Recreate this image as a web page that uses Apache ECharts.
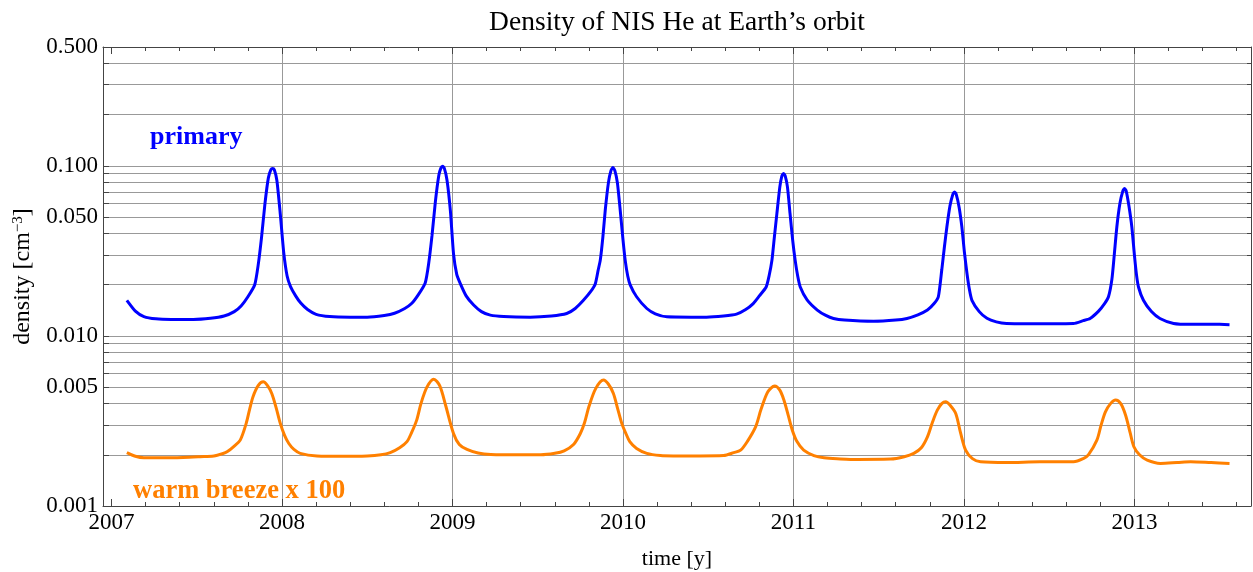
<!DOCTYPE html>
<html>
<head>
<meta charset="utf-8">
<script src="https://cdn.jsdelivr.net/npm/echarts@6/dist/echarts.min.js"></script>
<style>html,body{margin:0;padding:0;background:#fff}#c{width:1253px;height:572px}</style>
</head>
<body>
<div id="c"></div>
<script>
// ---- data (time in years, density in cm^-3) ----
const primaryT = [2007.09,2007.14,2007.19,2007.26,2007.35,2007.48,2007.58,2007.66,2007.72,2007.76,2007.80,2007.84,2007.86,2007.88,2007.90,2007.92,2007.935,2007.945,2007.955,2007.97,2007.99,2008.01,2008.03,2008.05,2008.08,2008.11,2008.15,2008.20,2008.28,2008.40,2008.50,2008.60,2008.66,2008.72,2008.76,2008.80,2008.84,2008.86,2008.88,2008.90,2008.92,2008.932,2008.942,2008.952,2008.968,2008.988,2009.006,2009.025,2009.046,2009.08,2009.124,2009.17,2009.222,2009.30,2009.456,2009.58,2009.67,2009.72,2009.768,2009.81,2009.838,2009.855,2009.867,2009.882,2009.896,2009.915,2009.93,2009.941,2009.952,2009.967,2009.984,2010.0,2010.013,2010.028,2010.043,2010.08,2010.14,2010.19,2010.258,2010.40,2010.49,2010.59,2010.666,2010.72,2010.764,2010.80,2010.84,2010.857,2010.874,2010.888,2010.903,2010.92,2010.932,2010.942,2010.952,2010.965,2010.98,2010.995,2011.01,2011.025,2011.04,2011.08,2011.14,2011.19,2011.235,2011.30,2011.47,2011.60,2011.666,2011.73,2011.786,2011.825,2011.85,2011.87,2011.885,2011.90,2011.918,2011.935,2011.945,2011.955,2011.972,2011.988,2012.003,2012.018,2012.032,2012.047,2012.09,2012.135,2012.19,2012.25,2012.45,2012.643,2012.70,2012.74,2012.79,2012.825,2012.848,2012.868,2012.882,2012.897,2012.915,2012.932,2012.942,2012.952,2012.968,2012.985,2013.0,2013.012,2013.024,2013.053,2013.10,2013.15,2013.23,2013.33,2013.425,2013.50,2013.558];
const primaryV = [0.0162,0.0140,0.0130,0.0126,0.0125,0.0125,0.0127,0.0131,0.0139,0.0150,0.0170,0.0200,0.0260,0.0380,0.0600,0.0850,0.0950,0.0966,0.0950,0.0820,0.0520,0.0310,0.0225,0.0195,0.0172,0.0156,0.0143,0.0134,0.0130,0.0129,0.0129,0.0132,0.0136,0.0145,0.0155,0.0175,0.0205,0.0265,0.0390,0.0620,0.0880,0.0970,0.0995,0.0970,0.0823,0.0540,0.0305,0.0230,0.0203,0.0172,0.0152,0.0139,0.01325,0.0130,0.0129,0.0131,0.01355,0.0145,0.0162,0.0182,0.0203,0.0245,0.0279,0.0380,0.0548,0.0800,0.0940,0.0977,0.0940,0.0800,0.0548,0.0370,0.0279,0.0225,0.0199,0.0170,0.0145,0.0135,0.01295,0.0129,0.0129,0.0131,0.01343,0.0143,0.0155,0.0172,0.0194,0.0225,0.0279,0.0380,0.0525,0.0750,0.0870,0.0901,0.0870,0.0750,0.0525,0.0370,0.0279,0.0225,0.0194,0.0163,0.0142,0.0132,0.01267,0.0124,0.0122,0.0124,0.01267,0.0133,0.0142,0.0155,0.0170,0.0244,0.0330,0.0437,0.0580,0.0680,0.0703,0.0680,0.0570,0.0437,0.0310,0.0233,0.0188,0.0162,0.0139,0.0127,0.0121,0.01184,0.0118,0.01184,0.0123,0.01267,0.0140,0.0155,0.0170,0.0215,0.0300,0.0437,0.0600,0.0710,0.0736,0.0710,0.0580,0.0437,0.0300,0.0230,0.0194,0.0162,0.0139,0.01267,0.01184,0.0117,0.01172,0.0117,0.01165];

const breezeT = [2007.09,2007.14,2007.19,2007.30,2007.42,2007.52,2007.60,2007.65,2007.68,2007.72,2007.755,2007.79,2007.81,2007.83,2007.86,2007.89,2007.915,2007.94,2007.965,2007.99,2008.015,2008.04,2008.07,2008.107,2008.205,2008.35,2008.50,2008.58,2008.635,2008.69,2008.733,2008.76,2008.79,2008.815,2008.85,2008.89,2008.925,2008.96,2009.006,2009.04,2009.085,2009.15,2009.225,2009.40,2009.518,2009.60,2009.655,2009.71,2009.75,2009.775,2009.80,2009.84,2009.886,2009.915,2009.944,2009.97,2009.993,2010.015,2010.04,2010.08,2010.14,2010.22,2010.295,2010.45,2010.59,2010.65,2010.69,2010.73,2010.778,2010.81,2010.85,2010.89,2010.92,2010.944,2010.97,2010.993,2011.02,2011.06,2011.12,2011.18,2011.275,2011.335,2011.57,2011.65,2011.706,2011.75,2011.786,2011.815,2011.844,2011.87,2011.893,2011.92,2011.952,2011.98,2012.01,2012.05,2012.098,2012.25,2012.446,2012.643,2012.70,2012.73,2012.78,2012.805,2012.83,2012.86,2012.89,2012.92,2012.948,2012.975,2012.997,2013.03,2013.075,2013.153,2013.25,2013.33,2013.45,2013.558];
const breezeV = [0.00206,0.00196,0.00192,0.00192,0.00193,0.00195,0.00197,0.00203,0.00209,0.00225,0.00244,0.00306,0.00370,0.00439,0.00510,0.00537,0.00510,0.00459,0.00380,0.00306,0.00260,0.00233,0.00215,0.00204,0.00197,0.00196,0.00197,0.00200,0.00206,0.00220,0.00239,0.00270,0.00320,0.00400,0.00500,0.00557,0.00510,0.00390,0.00267,0.00230,0.00215,0.00205,0.00201,0.00200,0.00200,0.00204,0.00211,0.00230,0.00267,0.00310,0.00383,0.00490,0.00550,0.00520,0.00459,0.00370,0.00306,0.00270,0.00239,0.00218,0.00204,0.00198,0.00197,0.00197,0.00198,0.00206,0.00213,0.00240,0.00292,0.00370,0.00470,0.00507,0.00480,0.00420,0.00340,0.00280,0.00240,0.00213,0.00198,0.00192,0.00189,0.00188,0.00189,0.00195,0.00204,0.00220,0.00255,0.00310,0.00366,0.00400,0.00410,0.00390,0.00350,0.00270,0.00213,0.00190,0.00182,0.00180,0.00182,0.00182,0.00190,0.00200,0.00244,0.00300,0.00358,0.00400,0.00420,0.00400,0.00343,0.00270,0.00223,0.00200,0.00186,0.00178,0.00180,0.00182,0.00180,0.00178];

const xMajorTicks = [2007,2008,2009,2010,2011,2012,2013];
const xGridYears = [2008,2009,2010,2011,2012,2013];
const xMinorTicks = [2007.2,2007.4,2007.6,2007.8,2008.2,2008.4,2008.6,2008.8,2009.2,2009.4,2009.6,2009.8,2010.2,2010.4,2010.6,2010.8,2011.2,2011.4,2011.6,2011.8,2012.2,2012.4,2012.6,2012.8,2013.2,2013.4,2013.6];
const yGridValues = [0.002,0.003,0.004,0.005,0.006,0.007,0.008,0.009,0.01,0.02,0.03,0.04,0.05,0.06,0.07,0.08,0.09,0.1,0.2,0.3,0.4];
const yLabelValues = [0.001,0.005,0.01,0.05,0.1,0.5];
const yTickLabels = ['0.001','0.005','0.010','0.050','0.100','0.500'];

const X_MIN = 2006.95, X_MAX = 2013.684, Y_MIN = 0.001, Y_MAX = 0.5;
const SERIF = '"Liberation Serif", "DejaVu Serif", serif';
const FRAME = '#444';

function zip(a, b) { return a.map((v, i) => [v, b[i]]); }

const baseX = {
  type: 'value', min: X_MIN, max: X_MAX, gridIndex: 0,
  axisLine: { show: false, onZero: false },
  axisLabel: { show: false },
  axisTick: { show: false },
  splitLine: { show: false }
};

const chart = echarts.init(document.getElementById('c'), null, { renderer: 'canvas' });
chart.setOption({
  animation: false,
  backgroundColor: '#fff',
  title: {
    text: 'Density of NIS He at Earth\u2019s orbit',
    left: 672, top: 4, textAlign: 'center',
    textStyle: { fontFamily: SERIF, fontSize: 27.5, fontWeight: 'normal', color: '#000' }
  },
  grid: { left: 103, right: 2, top: 47, bottom: 66, outerBoundsMode: 'none', containLabel: false },
  xAxis: [
    Object.assign({}, baseX, {
      position: 'bottom',
      name: 'time [y]', nameLocation: 'middle', nameGap: 42,
      nameTextStyle: { fontFamily: SERIF, fontSize: 22, color: '#000' },
      axisLine: { show: true, onZero: false, lineStyle: { color: FRAME, width: 1 } },
      axisTick: { show: true, inside: true, length: 7, customValues: xMajorTicks, lineStyle: { color: FRAME } },
      axisLabel: { show: true, customValues: xMajorTicks, margin: 5, fontFamily: SERIF, fontSize: 23, color: '#000',
        formatter: v => String(Math.round(v)) }
    }),
    Object.assign({}, baseX, {
      position: 'bottom',
      axisTick: { show: true, inside: true, length: 4, customValues: xMinorTicks, lineStyle: { color: FRAME } }
    }),
    Object.assign({}, baseX, {
      position: 'top',
      axisLine: { show: true, onZero: false, lineStyle: { color: FRAME, width: 1 } },
      axisTick: { show: true, inside: true, length: 7, customValues: xMajorTicks, lineStyle: { color: FRAME } }
    }),
    Object.assign({}, baseX, {
      position: 'top',
      axisTick: { show: true, inside: true, length: 4, customValues: xMinorTicks, lineStyle: { color: FRAME } }
    }),
    Object.assign({}, baseX, {
      position: 'bottom',
      axisTick: { show: false, customValues: xGridYears },
      splitLine: { show: true, lineStyle: { color: '#999', width: 1 } }
    })
  ],
  yAxis: [
    {
      type: 'log', logBase: 10, min: Y_MIN, max: Y_MAX, position: 'left',
      name: 'density [cm{sup|\u22123}]', nameLocation: 'middle', nameGap: 68, nameRotate: 90,
      nameTextStyle: { fontFamily: SERIF, fontSize: 24, color: '#000',
        rich: { sup: { fontFamily: SERIF, fontSize: 15, verticalAlign: 'top', color: '#000' } } },
      axisLine: { show: true, onZero: false, lineStyle: { color: FRAME, width: 1 } },
      axisTick: { show: true, inside: true, length: 6, customValues: yGridValues.concat(yLabelValues), lineStyle: { color: FRAME } },
      axisLabel: { show: true, customValues: yLabelValues, margin: 5, fontFamily: SERIF, fontSize: 23, color: '#000',
        formatter: v => { let best = 0; yLabelValues.forEach((lv, i) => { if (Math.abs(Math.log(lv / v)) < Math.abs(Math.log(yLabelValues[best] / v))) best = i; }); return yTickLabels[best]; } },
      splitLine: { show: false }
    },
    {
      type: 'log', logBase: 10, min: Y_MIN, max: Y_MAX, position: 'right',
      axisLine: { show: true, onZero: false, lineStyle: { color: FRAME, width: 1 } },
      axisTick: { show: true, inside: true, length: 4, customValues: yGridValues.concat(yLabelValues), lineStyle: { color: FRAME } },
      axisLabel: { show: false },
      splitLine: { show: false }
    },
    {
      type: 'log', logBase: 10, min: Y_MIN, max: Y_MAX, position: 'left',
      axisLine: { show: false }, axisLabel: { show: false },
      axisTick: { show: false, customValues: yGridValues },
      splitLine: { show: true, lineStyle: { color: '#999', width: 1 } }
    }
  ],
  graphic: [
    { type: 'text', left: 150, top: 124, z: 100,
      style: { text: 'primary', fill: '#0000ff', font: 'bold 26px ' + SERIF } },
    { type: 'text', left: 133, top: 478, z: 100,
      style: { text: 'warm breeze x 100', fill: '#ff8000', font: 'bold 26.5px ' + SERIF } }
  ],
  series: [
    { name: 'primary', type: 'line', xAxisIndex: 0, yAxisIndex: 0, data: zip(primaryT, primaryV),
      showSymbol: false, smooth: 0.2, lineStyle: { color: '#0000ff', width: 3 }, z: 10 },
    { name: 'warm breeze x 100', type: 'line', xAxisIndex: 0, yAxisIndex: 0, data: zip(breezeT, breezeV),
      showSymbol: false, smooth: 0.3, lineStyle: { color: '#ff8000', width: 3 }, z: 10 }
  ]
});
</script>
</body>
</html>
